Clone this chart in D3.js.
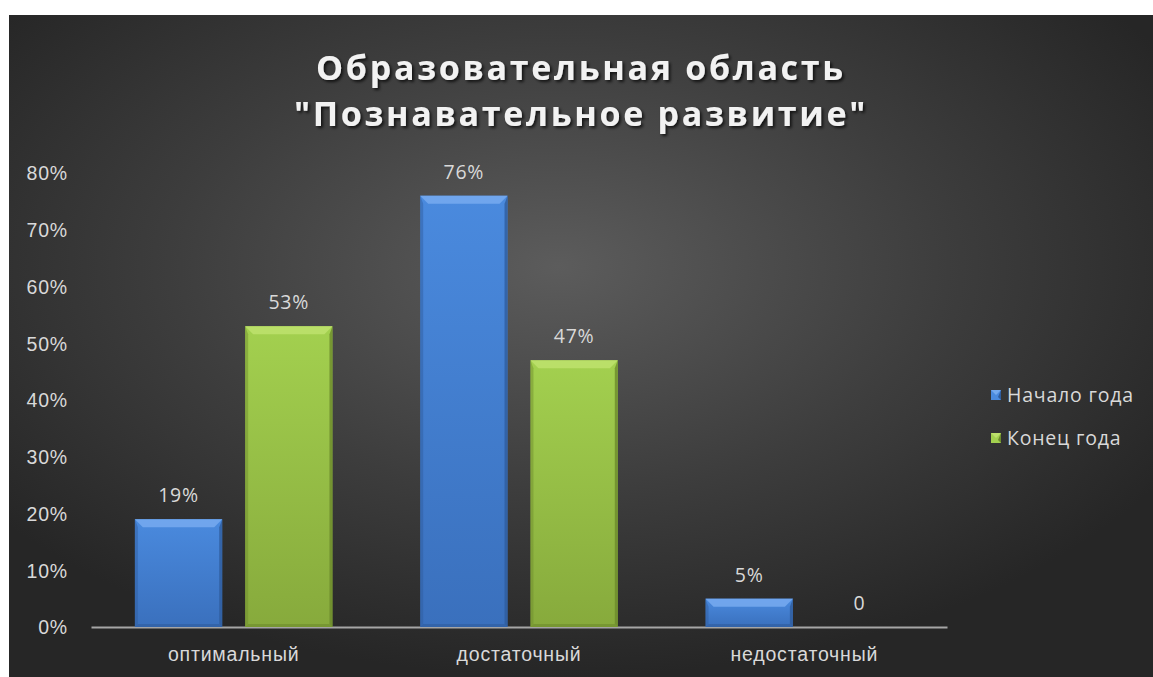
<!DOCTYPE html>
<html>
<head>
<meta charset="utf-8">
<script src="https://cdn.jsdelivr.net/npm/d3@7"></script>
<style>
  html, body { margin: 0; padding: 0; background: #fff; }
  svg { display: block; font-family: "Open Sans", "Noto Sans", sans-serif; }
</style>
</head>
<body>
<svg id="chart" width="1153" height="677"></svg>
<script>
// данные
const categories = ["оптимальный", "достаточный", "недостаточный"];
const series = ["Начало года", "Конец года"];
const startYear = [0.19, 0.76, 0.05];
const endYear = [0.53, 0.47, 0];
const labelsStart = ["19%", "76%", "5%"];
const labelsEnd = ["53%", "47%", "0"];
const yTicks = [0, 0.1, 0.2, 0.3, 0.4, 0.5, 0.6, 0.7, 0.8];
const titleLines = ["Образовательная область", "\"Познавательное развитие\""];

const W = 1153, H = 677;
const FS = 19.5, LS = 0.8;
const svg = d3.select("#chart");
const defs = svg.append("defs");

// фон: радиальный градиент
const bg = defs.append("radialGradient").attr("id", "bgGrad")
  .attr("cx", "48%").attr("cy", "38%").attr("r", "62%");
bg.append("stop").attr("offset", "0%").attr("stop-color", "#5c5c5c");
bg.append("stop").attr("offset", "55%").attr("stop-color", "#3d3d3d");
bg.append("stop").attr("offset", "100%").attr("stop-color", "#262626");

svg.append("rect").attr("x", 9).attr("y", 15).attr("width", W - 9).attr("height", H - 15)
  .attr("fill", "url(#bgGrad)");

const shadow = defs.append("filter").attr("id", "tshadow").attr("x", "-5%").attr("y", "-20%")
  .attr("width", "110%").attr("height", "140%");
shadow.append("feDropShadow").attr("dx", 2).attr("dy", 2).attr("stdDeviation", 1.5)
  .attr("flood-color", "#000").attr("flood-opacity", 0.7);

const palette = {
  "Начало года": { top: "#4a8ade", bottom: "#3a70bd", light: "#74a9ee", dark: "#2f5c9c" },
  "Конец года": { top: "#a3d04f", bottom: "#87aa3c", light: "#bde06c", dark: "#6c8a2c" },
};
series.forEach((s, i) => {
  const g = defs.append("linearGradient").attr("id", "barGrad" + i)
    .attr("x1", "0").attr("x2", "0").attr("y1", "0").attr("y2", "1");
  g.append("stop").attr("offset", "0%").attr("stop-color", palette[s].top);
  g.append("stop").attr("offset", "100%").attr("stop-color", palette[s].bottom);
});

// шкалы
const y = d3.scaleLinear().domain([0, 0.8]).range([627, 173]);
const x0 = d3.scaleBand().domain(categories).range([91, 947]).paddingInner(0).paddingOuter(0);
const x1 = d3.scaleBand().domain(series).range([0, x0.bandwidth()])
  .paddingInner(0.208).paddingOuter(0.398);

// заголовок (две строки отдельными текстами)
titleLines.forEach((t, i) => {
  svg.append("text").attr("x", 581).attr("y", 80 + i * 46).attr("text-anchor", "middle")
    .attr("font-weight", 700).attr("font-size", 34).attr("letter-spacing", 2.7)
    .attr("fill", "#f2f2f2").attr("filter", "url(#tshadow)").text(t);
});

// ось Y
const yAxis = d3.axisLeft(y).tickValues(yTicks).tickFormat(d3.format(".0%")).tickSize(0).tickPadding(0);
const ya = svg.append("g").attr("transform", "translate(68,0)").call(yAxis);
ya.select(".domain").remove();
ya.selectAll("text").attr("fill", "#d9d9d9").attr("font-size", FS).attr("letter-spacing", LS)
  .attr("dy", "0.35em");

// ось X
const xAxis = d3.axisBottom(x0).tickSize(0).tickPadding(0);
const xa = svg.append("g").attr("transform", "translate(0,627)").call(xAxis);
xa.select(".domain").attr("stroke", "#a6a6a6").attr("stroke-width", 2);
xa.selectAll("text").attr("fill", "#d9d9d9").attr("font-size", FS).attr("letter-spacing", LS)
  .attr("y", 27).attr("dy", "0.35em");

// столбцы
const rows = [];
categories.forEach((c, ci) => {
  rows.push({ cat: c, s: series[0], si: 0, v: startYear[ci], label: labelsStart[ci] });
  rows.push({ cat: c, s: series[1], si: 1, v: endYear[ci], label: labelsEnd[ci] });
});

const bars = svg.append("g");
rows.forEach((d) => {
  const bx = x0(d.cat) + x1(d.s);
  const bw = x1.bandwidth();
  const by = y(d.v);
  const bh = y(0) - by;
  const p = palette[d.s];
  if (bh > 0) {
    const g = bars.append("g");
    const b = Math.min(8, bh / 2);
    const sb = Math.min(3, bh / 2);
    g.append("rect").attr("x", bx).attr("y", by).attr("width", bw).attr("height", bh)
      .attr("fill", `url(#barGrad${d.si})`);
    // верхняя фаска
    g.append("path").attr("d", `M${bx},${by}L${bx + bw},${by}L${bx + bw - b},${by + b}L${bx + b},${by + b}Z`)
      .attr("fill", p.light).attr("opacity", 0.9);
    // правая сторона
    g.append("path").attr("d", `M${bx + bw},${by}L${bx + bw},${by + bh}L${bx + bw - sb},${by + bh - sb}L${bx + bw - sb},${by + b}Z`)
      .attr("fill", p.dark).attr("opacity", 0.8);
    // левая сторона
    g.append("path").attr("d", `M${bx},${by}L${bx + sb},${by + b}L${bx + sb},${by + bh - sb}L${bx},${by + bh}Z`)
      .attr("fill", p.dark).attr("opacity", 0.45);
    // нижняя фаска
    g.append("path").attr("d", `M${bx},${by + bh}L${bx + bw},${by + bh}L${bx + bw - sb},${by + bh - sb}L${bx + sb},${by + bh - sb}Z`)
      .attr("fill", p.dark).attr("opacity", 0.6);
  }
  svg.append("text").attr("x", bx + bw / 2).attr("y", by - 17)
    .attr("text-anchor", "middle").attr("font-size", FS).attr("letter-spacing", LS)
    .attr("fill", "#d9d9d9").text(d.label);
});

// легенда
const legend = svg.append("g").attr("transform", "translate(991,390)");
series.forEach((s, i) => {
  const g = legend.append("g").attr("transform", `translate(0,${i * 43})`);
  const p = palette[s];
  g.append("rect").attr("width", 10).attr("height", 10).attr("fill", p.top);
  g.append("path").attr("d", "M0,0L10,0L5,5Z").attr("fill", p.light);
  g.append("path").attr("d", "M10,0L10,10L7,7Z").attr("fill", p.dark);
  g.append("text").attr("x", 16).attr("y", 5).attr("dy", "0.35em")
    .attr("font-size", FS).attr("letter-spacing", LS).attr("fill", "#d9d9d9").text(s);
});
</script>
</body>
</html>
